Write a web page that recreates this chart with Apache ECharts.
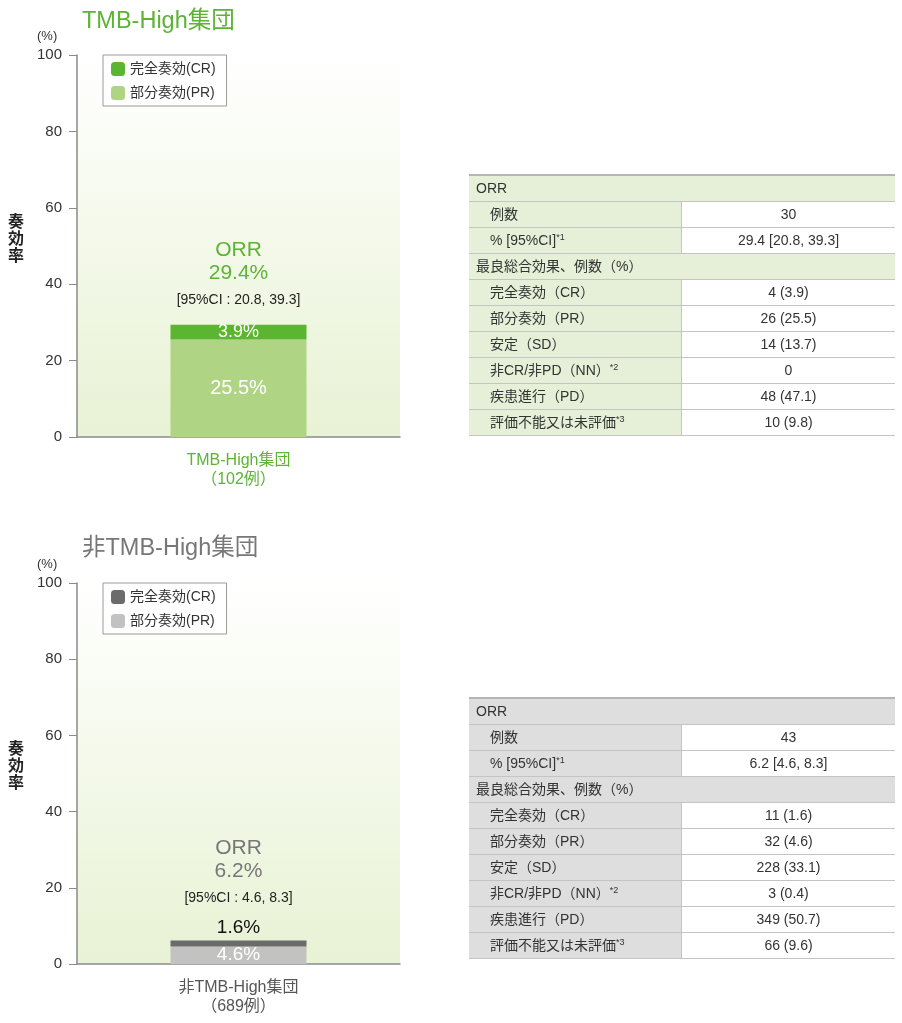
<!DOCTYPE html>
<html>
<head>
<meta charset="utf-8">
<script src="https://cdn.jsdelivr.net/npm/echarts@6/dist/echarts.min.js"></script>
<style>
  body { margin: 0; background: #fff; font-family: "Liberation Sans", "Noto Sans CJK JP", sans-serif; }
  #wrap { position: relative; width: 902px; height: 1023px; }
  #high { position: absolute; left: 0; top: 0; width: 902px; height: 510px; }
  #low { position: absolute; left: 0; top: 510px; width: 902px; height: 513px; }
  table.res { position: absolute; left: 469px; width: 426px; border-collapse: collapse; font-size: 14px; color: #333; }
  table.res td { height: 25px; line-height: 23px; padding: 0; border-bottom: 1px solid #c4c4c4; }
  table.res tr:first-child td { border-top: 2px solid #b5b5b5; }
  table.res td.h { padding-left: 7px; }
  table.res td.s { padding-left: 21px; width: 191px; border-right: 1px solid #c4c4c4; }
  table.res td.v { text-align: center; background: #fff; }
  table.res sup { font-size: 9px; vertical-align: 5px; line-height: 0; }
</style>
</head>
<body>
<div id="wrap">
  <div id="high"></div>
  <div id="low"></div>
  <table class="res" id="tblHigh" style="top:174px"></table>
  <table class="res" id="tblLow" style="top:697px"></table>
</div>
<script>
// data
var yMin = 0, yMax = 100, yStep = 20;
var seriesNames = ['完全奏効(CR)', '部分奏効(PR)'];

var highCategory = ['TMB-High集団\n（102例）'];
var highCR = [3.9];
var highPR = [25.5];
var highORR = '29.4%';
var highCI = '[95%CI : 20.8, 39.3]';

var lowCategory = ['非TMB-High集団\n（689例）'];
var lowCR = [1.6];
var lowPR = [4.6];
var lowORR = '6.2%';
var lowCI = '[95%CI : 4.6, 8.3]';

var rowLabels = ['ORR', '例数', '% [95%CI]<sup>*1</sup>', '最良総合効果、例数（%）', '完全奏効（CR）',
  '部分奏効（PR）', '安定（SD）', '非CR/非PD（NN）<sup>*2</sup>', '疾患進行（PD）', '評価不能又は未評価<sup>*3</sup>'];
var highValues = [null, '30', '29.4 [20.8, 39.3]', null, '4 (3.9)', '26 (25.5)', '14 (13.7)', '0', '48 (47.1)', '10 (9.8)'];
var lowValues = [null, '43', '6.2 [4.6, 8.3]', null, '11 (1.6)', '32 (4.6)', '228 (33.1)', '3 (0.4)', '349 (50.7)', '66 (9.6)'];

var FONT = '"Liberation Sans", "Noto Sans CJK JP", sans-serif';

function buildTable(id, values, bg) {
  var html = '';
  for (var i = 0; i < rowLabels.length; i++) {
    if (values[i] === null) {
      html += '<tr><td class="h" colspan="2" style="background:' + bg + '">' + rowLabels[i] + '</td></tr>';
    } else {
      html += '<tr><td class="s" style="background:' + bg + '">' + rowLabels[i] + '</td><td class="v">' + values[i] + '</td></tr>';
    }
  }
  document.getElementById(id).innerHTML = html;
}

function barChart(el, opt) {
  var chart = echarts.init(document.getElementById(el));
  var plotBg = {
    type: 'linear', x: 0, y: 0, x2: 0, y2: 1,
    colorStops: [{offset: 0, color: '#ffffff'}, {offset: 1, color: '#e8f2d4'}]
  };
  var option = {
    animation: false,
    textStyle: { fontFamily: FONT },
    title: {
      text: opt.title, left: 77, top: opt.titleTop,
      textStyle: { fontSize: 23.5, fontWeight: 'normal', color: opt.titleColor, fontFamily: FONT }
    },
    legend: {
      orient: 'vertical', left: 103, top: opt.gridTop,
      itemWidth: 14, itemHeight: 14, itemGap: 10,
      padding: [7, 11, 6, 8],
      borderColor: '#9a9a9a', borderWidth: 1, backgroundColor: '#fff',
      textStyle: { fontSize: 14, color: '#333' },
      data: seriesNames
    },
    grid: {
      left: 77, top: opt.gridTop, width: 323, height: opt.gridHeight,
      show: true, borderWidth: 0, backgroundColor: plotBg
    },
    graphic: [
      { type: 'text', left: 37, top: opt.gridTop - 25, style: { text: '(%)', fontSize: 13, fill: '#333', fontFamily: FONT } },
      { type: 'text', left: 8, top: opt.gridTop + opt.gridHeight / 2 - 32,
        style: { text: '奏\n効\n率', fontSize: 16, lineHeight: 17, fontWeight: 'bold', fill: '#222', fontFamily: FONT } }
    ],
    xAxis: {
      type: 'category', data: opt.category,
      axisLine: { lineStyle: { color: '#8a8a8a', width: 1.5 } },
      axisTick: { show: false },
      axisLabel: { fontSize: 16, lineHeight: 19, color: opt.catColor, margin: 14 }
    },
    yAxis: {
      type: 'value', min: yMin, max: yMax, interval: yStep,
      axisLine: { show: true, lineStyle: { color: '#8a8a8a', width: 1.5 } },
      axisTick: { show: true, length: 8, lineStyle: { color: '#8a8a8a' } },
      axisLabel: { fontSize: 15, color: '#333', margin: 15 },
      splitLine: { show: false }
    },
    series: [
      {
        name: seriesNames[1], type: 'bar', stack: 'r', barWidth: 136,
        data: opt.pr, itemStyle: { color: opt.prColor },
        label: { show: true, position: 'inside', formatter: '{c}%', color: '#fff', fontSize: opt.prSize }
      },
      {
        name: seriesNames[0], type: 'bar', stack: 'r', barWidth: 136,
        data: opt.cr, itemStyle: { color: opt.crColor },
        label: opt.crLabel,
        markPoint: {
          symbol: 'rect', symbolSize: 1, itemStyle: { color: 'rgba(0,0,0,0)' },
          label: {
            show: true, position: 'top', distance: opt.orrGap,
            formatter: '{a|ORR}\n{a|' + opt.orr + '}\n{b|' + opt.ci + '}',
            rich: {
              a: { fontSize: 21, lineHeight: 23, color: opt.orrColor, align: 'center' },
              b: { fontSize: 14, lineHeight: 30, color: '#222', align: 'center' }
            }
          },
          data: [{ coord: [0, opt.cr[0] + opt.pr[0]] }]
        }
      }
    ]
  };
  chart.setOption(option);
}

barChart('high', {
  title: 'TMB-High集団', titleTop: 5, titleColor: '#5db336',
  gridTop: 55, gridHeight: 382,
  category: highCategory, catColor: '#5db336',
  cr: highCR, pr: highPR,
  crColor: '#5cb531', prColor: '#afd584', prSize: 20,
  crLabel: { show: true, position: 'inside', formatter: '{c}%', color: '#fff', fontSize: 18 },
  orr: highORR, ci: highCI, orrColor: '#5db336', orrGap: 9
});

barChart('low', {
  title: '非TMB-High集団', titleTop: 22, titleColor: '#777',
  gridTop: 73, gridHeight: 381,
  category: lowCategory, catColor: '#555',
  cr: lowCR, pr: lowPR,
  crColor: '#6b6b6b', prColor: '#c2c2c2', prSize: 19,
  crLabel: { show: true, position: 'top', distance: 3, formatter: '{c}%', color: '#111', fontSize: 19 },
  orr: lowORR, ci: lowCI, orrColor: '#777', orrGap: 27
});

buildTable('tblHigh', highValues, '#e6f0d8');
buildTable('tblLow', lowValues, '#dedede');
</script>
</body>
</html>
